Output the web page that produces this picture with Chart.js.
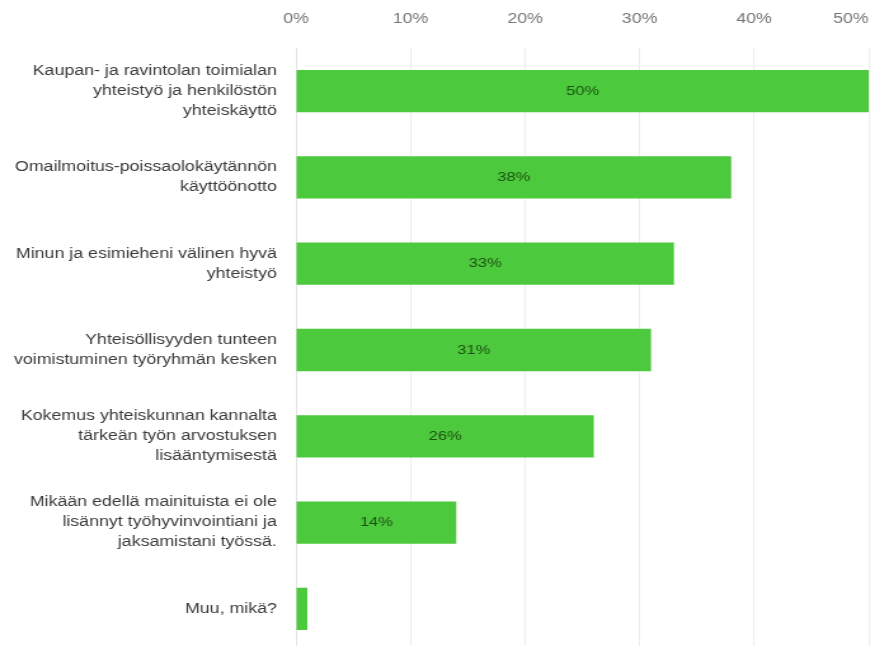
<!DOCTYPE html>
<html>
<head>
<meta charset="utf-8">
<script src="https://cdn.jsdelivr.net/npm/chart.js@4/dist/chart.umd.min.js"></script>
<style>
  html, body { margin: 0; padding: 0; background: #fff; overflow: hidden; }
  /* kaavio piirretään kapeampana ja venytetään vaakasuunnassa */
  #wrap { position: relative; width: 686px; height: 660px; transform: scaleX(1.27); transform-origin: 0 0; }
</style>
</head>
<body>
<div id="wrap"><canvas id="chart"></canvas></div>
<script>
// Vastausvaihtoehdot (rivitetty kuten kyselyssä)
const vaihtoehdot = [
  ['Kaupan- ja ravintolan toimialan', 'yhteistyö ja henkilöstön', 'yhteiskäyttö'],
  ['Omailmoitus-poissaolokäytännön', 'käyttöönotto'],
  ['Minun ja esimieheni välinen hyvä', 'yhteistyö'],
  ['Yhteisöllisyyden tunteen', 'voimistuminen työryhmän kesken'],
  ['Kokemus yhteiskunnan kannalta', 'tärkeän työn arvostuksen', 'lisääntymisestä'],
  ['Mikään edellä mainituista ei ole', 'lisännyt työhyvinvointiani ja', 'jaksamistani työssä.'],
  ['Muu, mikä?']
];

// Osuudet vastaajista (%)
const osuudet = [50, 38, 33, 31, 26, 14, 1];

// X-akselin jaotus
const akseliMax = 50;
const akseliVali = 10;

const vihrea = '#4cc93c';
const fontti = '"Liberation Sans", Arial, sans-serif';

// Prosenttiluku palkin keskelle
const arvoPlugin = {
  id: 'arvot',
  afterDatasetsDraw(chart) {
    const ctx = chart.ctx;
    const meta = chart.getDatasetMeta(0);
    ctx.save();
    ctx.font = '13px ' + fontti;
    ctx.fillStyle = '#1e5213';
    ctx.textAlign = 'center';
    ctx.textBaseline = 'middle';
    meta.data.forEach((bar, i) => {
      if (osuudet[i] < 5) return; // liian kapea palkki
      ctx.fillText(osuudet[i] + '%', (bar.base + bar.x) / 2, bar.y);
    });
    ctx.restore();
  }
};

new Chart(document.getElementById('chart'), {
  type: 'bar',
  data: {
    labels: vaihtoehdot,
    datasets: [{
      data: osuudet,
      backgroundColor: vihrea,
      borderWidth: 0,
      barPercentage: 0.49,
      categoryPercentage: 1
    }]
  },
  options: {
    indexAxis: 'y',
    responsive: true,
    maintainAspectRatio: false,
    animation: false,
    layout: { padding: { left: 0, right: 2, top: 0, bottom: 8 } },
    plugins: { legend: { display: false }, tooltip: { enabled: false } },
    scales: {
      x: {
        position: 'top',
        min: 0,
        max: akseliMax,
        grid: { color: '#ededed', drawTicks: false },
        border: { display: false },
        ticks: {
          stepSize: akseliVali,
          padding: 20,
          color: '#777',
          font: { family: fontti, size: 14 },
          // viimeinen luku siirretään vähän vasemmalle, ettei se leikkaudu
          callback: v => v === akseliMax ? v + '%\u2002\u2002\u2002\u2002' : v + '%'
        },
        afterFit: s => { s.height = 48; s.paddingRight = 0; }
      },
      y: {
        grid: { display: false, drawTicks: false },
        border: { display: true, color: '#e2e2e2' },
        ticks: {
          padding: 15,
          color: '#3a3a3a',
          font: { family: fontti, size: 14, lineHeight: 1.43 }
        },
        afterFit: s => { s.width = 233; s.paddingTop = 0; s.paddingBottom = 0; }
      }
    }
  },
  plugins: [arvoPlugin]
});
</script>
</body>
</html>
